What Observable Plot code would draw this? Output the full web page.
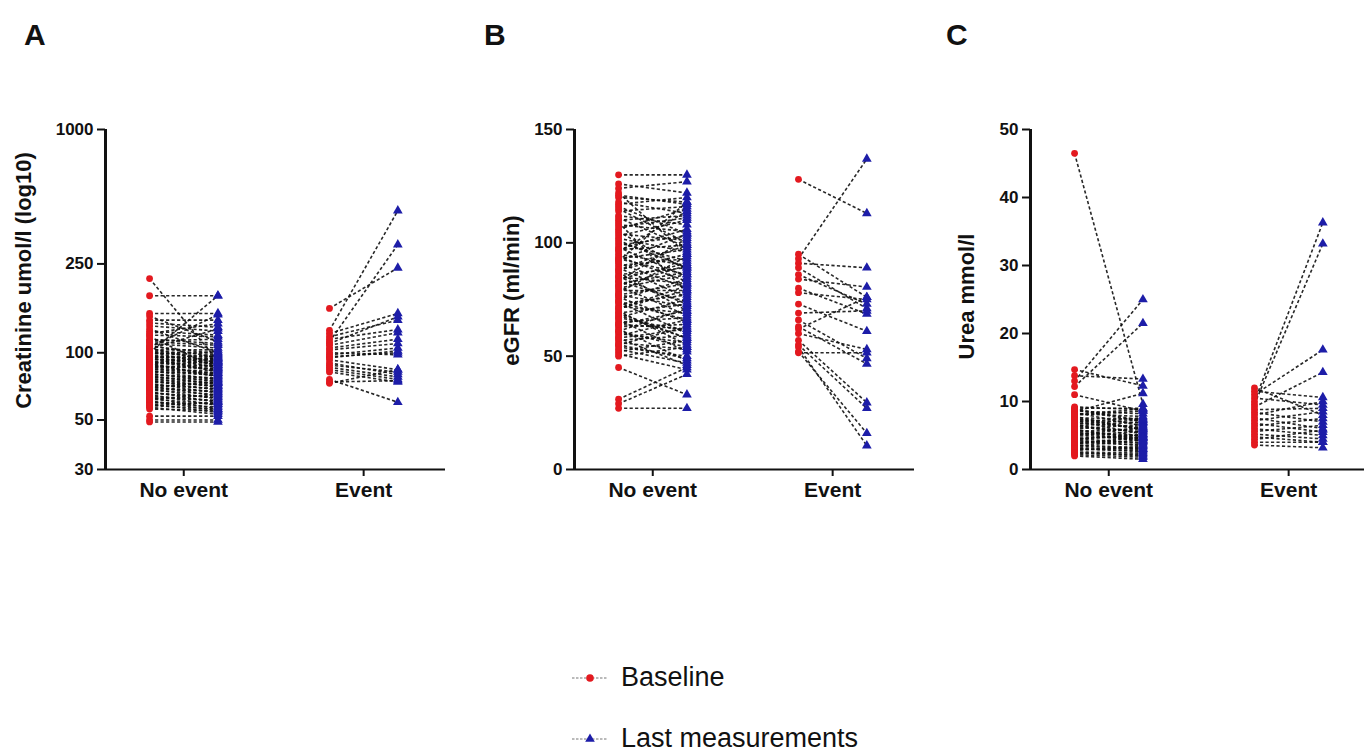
<!DOCTYPE html>
<html><head><meta charset="utf-8">
<script src="https://cdn.jsdelivr.net/npm/d3@7"></script>
<script src="https://cdn.jsdelivr.net/npm/@observablehq/plot@0.6"></script>
<style>
html,body{margin:0;padding:0;background:#fff;overflow:hidden;}
#wrap{position:relative;width:1364px;height:754px;overflow:hidden;font-family:"Liberation Sans",Arial,sans-serif;color:#111;}
.panel{position:absolute;top:0;}
.panel svg{max-width:none !important;}
.letter{position:absolute;top:20px;font-size:30px;line-height:30px;font-weight:bold;}
.leg{position:absolute;left:572px;height:27px;}
.leg span{position:absolute;left:49px;top:0;font-size:27px;line-height:27px;white-space:nowrap;}
.leg svg{position:absolute;left:0;top:6px;}
</style></head><body><div id="wrap"></div>
<script>
const groups = ["No event", "Event"];
const legendLabels = ["Baseline", "Last measurements"];

// Panel A: Creatinine umol/l (log10)
const creatNoEventBase = [215,180,150,146,140,136,132,128,125,122,120,118,115,113,110,108,106,105,104,103,102,101,100,100,99,98,97,96,95,95,94,93,92,91,90,90,89,88,87,86,85,84,83,82,81,80,79,78,77,76,75,74,73,72,71,70,69,68,67,66,65,64,63,62,61,60,59,58,57,56,52,50,49,112,107,101,97,94,91,88,86,83,80,78,75,72,69,66,63,60,58,62,70];
const creatNoEventLast = [92,180,150,112,140,130,125,100,120,135,118,85,110,115,105,95,148,90,128,103,98,88,96,180,101,92,86,94,97,82,90,93,87,84,95,78,91,80,85,88,79,83,76,81,74,77,72,75,70,73,68,71,66,69,64,67,62,65,60,63,58,61,56,59,55,57,54,60,53,55,52,50,49,108,99,94,91,89,86,84,81,79,76,73,71,69,67,63,61,59,56,65,74];
const creatEventBase = [158,126,112,122,118,115,110,108,105,103,100,98,96,95,93,90,88,86,84,82,76,74,73];
const creatEventLast = [240,433,305,150,140,127,145,123,115,110,98,105,100,102,84,80,82,78,76,74,60,75,84];
const creatTicks = [30, 50, 100, 250, 1000];

// Panel B: eGFR (ml/min)
const egfrNoEventBase = [130,126,124,122,120,118,117,115,114,112,110,109,108,106,105,104,103,102,100,99,98,97,96,95,94,93,92,91,90,89,88,87,86,85,84,83,82,81,80,79,78,77,76,75,74,73,72,71,70,69,68,67,66,65,64,63,62,61,60,59,58,57,56,55,54,52,51,50,45,31,29,27,121,116,111,107,101,97,93,88,85,81,77,74,71,67,64,61,58,55,53,92,83,69];
const egfrNoEventLast = [130,122,127,95,118,113,120,100,116,108,112,78,105,115,88,101,110,96,92,103,85,99,114,90,83,97,104,80,93,76,95,70,89,82,91,74,87,68,86,79,94,72,65,84,60,77,69,81,55,73,58,75,52,67,62,64,48,71,56,66,46,59,53,63,50,57,44,54,33,45,42,27,117,104,98,111,89,106,86,99,73,90,82,66,79,61,70,54,62,49,47,118,102,58];
const egfrEventBase = [128,95,93,91,89,86,84,80,78,73,69,66,63,60,57,55,54,52,51.5,62];
const egfrEventLast = [113,76,137,89,71,73,80.5,68.6,75,61,70,49,46.6,53,29.5,27,10.5,16,51.5,76];
const egfrTicks = [0, 50, 100, 150];

// Panel C: Urea mmol/l
const ureaNoEventBase = [46.5,14.7,13.8,13.0,12.2,11.0,9.2,9.0,8.8,8.6,8.4,8.2,8.0,7.8,7.6,7.4,7.2,7.0,6.8,6.6,6.4,6.2,6.0,5.8,5.6,5.4,5.2,5.0,4.8,4.6,4.4,4.2,4.0,3.8,3.6,3.4,3.2,3.0,2.8,2.6,2.4,2.2,2.0,8.5,7.5,6.5,5.5,4.5,3.5,8.9,8.1,7.3,6.7,5.9,5.1,4.3,3.7,3.1,2.5];
const ureaNoEventLast = [9.6,12.3,13.3,25.0,21.5,8.6,8.8,9.0,7.0,8.2,6.4,7.8,8.6,5.8,7.4,6.8,5.2,7.6,6.2,4.8,7.0,5.6,6.6,4.4,6.0,5.0,4.2,5.6,4.6,3.8,5.2,4.0,3.6,4.8,3.2,4.4,3.0,2.8,3.4,2.4,2.2,1.8,1.5,11.2,6.0,5.4,4.2,5.0,3.0,7.2,8.9,5.9,7.3,4.6,6.2,3.5,4.7,2.6,2.0];
const ureaEventBase = [12.0,11.5,11.0,10.5,10.0,9.6,9.2,8.8,8.4,8.0,7.6,7.2,6.8,6.4,6.0,5.6,5.2,4.8,4.4,4.0,3.6];
const ureaEventLast = [8.0,10.6,17.6,9.5,36.3,33.2,14.3,9.0,7.0,10.0,6.0,8.5,5.5,7.5,5.0,6.5,4.5,4.0,5.8,4.0,3.2];
const ureaTicks = [0, 10, 20, 30, 40, 50];

const RED = "#e3191f";
const BLUE = "#1d1da8";
const OFF = 0.19;
const XDOM = [-0.435, 1.455];
const FONT = '"Liberation Sans", Arial, sans-serif';

function pairs(noB, noL, evB, evL) {
  return [
    ...noB.map((b, i) => ({g: 0, base: b, last: noL[i]})),
    ...evB.map((b, i) => ({g: 1, base: b, last: evL[i]}))
  ];
}

function panel(o) {
  const data = o.data;
  return Plot.plot({
    width: o.width, height: 530,
    marginLeft: o.mLeft, marginRight: o.mRight, marginTop: 129, marginBottom: 61,
    style: {fontFamily: FONT, color: "#111", background: "transparent", overflow: "visible"},
    x: {type: "linear", domain: XDOM},
    y: {type: o.yType, domain: o.yDomain},
    marks: [
      Plot.link(data, {x1: d => d.g - OFF, x2: d => d.g + OFF, y1: "base", y2: "last",
        stroke: "#111", strokeWidth: 1.6, strokeDasharray: "3.2,2.3", strokeOpacity: 0.9}),
      Plot.dot(data, {x: d => d.g - OFF, y: "base", r: 3.4, fill: RED}),
      Plot.dot(data, {x: d => d.g + OFF, y: "last", symbol: "triangle", r: 3.6, fill: BLUE}),
      Plot.ruleX([XDOM[0]], {stroke: "#111", strokeWidth: 3}),
      Plot.ruleY([o.yDomain[0]], {stroke: "#111", strokeWidth: 2}),
      Plot.axisY({ticks: o.yTicks, tickFormat: d => String(d), tickSize: 8, tickPadding: 4,
        strokeWidth: 2, fontSize: 17, fontWeight: "bold", label: null}),
      Plot.axisX({ticks: [0, 1], tickFormat: i => groups[i], tickSize: 7, tickPadding: 6,
        strokeWidth: 2, fontSize: 21, fontWeight: "bold", label: null}),
      Plot.text([o.label], {text: d => d, frameAnchor: "left", textAnchor: "middle", lineAnchor: "middle",
        rotate: -90, dx: o.labelDx, dy: o.labelDy, fontSize: 22, fontWeight: "bold", fill: "#111"})
    ]
  });
}

const wrap = document.getElementById("wrap");
const panels = [
  {left: 0, width: 470, mLeft: 105, mRight: 25, yType: "log", yDomain: [30, 1000], yTicks: creatTicks,
   label: "Creatinine umol/l (log10)", labelDx: -82, labelDy: -19, letter: "A", letterX: 24,
   data: pairs(creatNoEventBase, creatNoEventLast, creatEventBase, creatEventLast)},
  {left: 465, width: 470, mLeft: 109, mRight: 21, yType: "linear", yDomain: [0, 150], yTicks: egfrTicks,
   label: "eGFR (ml/min)", labelDx: -63, labelDy: -9, letter: "B", letterX: 484,
   data: pairs(egfrNoEventBase, egfrNoEventLast, egfrEventBase, egfrEventLast)},
  {left: 925, width: 445, mLeft: 105, mRight: 0, yType: "linear", yDomain: [0, 50], yTicks: ureaTicks,
   label: "Urea mmol/l", labelDx: -64, labelDy: -3, letter: "C", letterX: 946,
   data: pairs(ureaNoEventBase, ureaNoEventLast, ureaEventBase, ureaEventLast)}
];
for (const p of panels) {
  const div = document.createElement("div");
  div.className = "panel";
  div.style.left = p.left + "px";
  div.style.width = p.width + "px";
  div.appendChild(panel(p));
  wrap.appendChild(div);
  const l = document.createElement("div");
  l.className = "letter";
  l.style.left = p.letterX + "px";
  l.textContent = p.letter;
  wrap.appendChild(l);
}

// legend
const legTops = [664, 725];
legendLabels.forEach((lab, i) => {
  const item = d3.select(wrap).append("div").attr("class", "leg").style("top", legTops[i] + "px");
  const svg = item.append("svg").attr("width", 40).attr("height", 16);
  svg.append("line").attr("x1", 0).attr("x2", 36).attr("y1", 8).attr("y2", 8)
    .attr("stroke", "#777").attr("stroke-width", 1.2).attr("stroke-dasharray", "2.5,1.5");
  if (i === 0) svg.append("circle").attr("cx", 18).attr("cy", 8).attr("r", 3.8).attr("fill", RED);
  else svg.append("path").attr("d", d3.symbol(d3.symbolTriangle, 40)()).attr("transform", "translate(18,8)").attr("fill", BLUE);
  item.append("span").text(lab);
});
</script>
</body></html>
